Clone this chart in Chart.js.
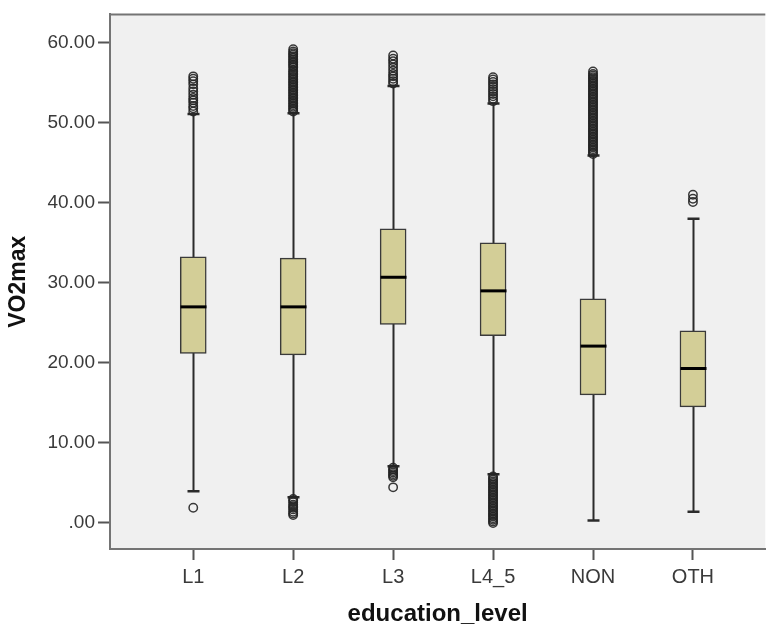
<!DOCTYPE html>
<html>
<head>
<meta charset="utf-8">
<script src="https://cdn.jsdelivr.net/npm/chart.js@4"></script>
<style>
  html, body { margin: 0; padding: 0; background: #ffffff; }
  #wrap { width: 771px; height: 629px; }
</style>
</head>
<body>
<div id="wrap"><canvas id="boxChart" width="771" height="629"></canvas></div>
<script>
// categories and box statistics
const categories = ["L1", "L2", "L3", "L4_5", "NON", "OTH"];
const q1 = [21.2, 21.0, 24.8, 23.4, 16.0, 14.5];
const median = [27.0, 27.0, 30.7, 29.0, 22.1, 19.3];
const q3 = [33.25, 33.1, 36.75, 35.0, 28.0, 24.0];
const whiskerLow = [3.95, 3.2, 7.1, 6.1, 0.3, 1.4];
const whiskerHigh = [51.1, 51.2, 54.6, 52.4, 45.9, 38.0];

// outliers per category
const outliersL1 = [1.9, 51.4, 51.8, 52.1, 52.5, 52.8, 53.1, 53.5, 53.9, 54.3, 54.8, 55.2, 55.5, 55.8];
const outliersL2 = [1.0, 1.2, 1.4, 1.7, 1.9, 2.1, 2.3, 2.6, 2.8, 3.0,
  51.4, 51.6, 51.8, 52.0, 52.2, 52.4, 52.6, 52.8, 53.0, 53.2, 53.4, 53.6, 53.8, 54.0,
  54.2, 54.4, 54.6, 54.8, 55.0, 55.2, 55.4, 55.6, 55.8, 56.0, 56.2, 56.4, 56.6, 56.9,
  57.1, 57.3, 57.5, 57.7, 57.9, 58.1, 58.3, 58.5, 58.7, 58.9, 59.2];
const outliersL3 = [4.45, 5.7, 5.9, 6.1, 6.3, 6.5, 6.7, 6.9,
  54.9, 55.2, 55.5, 55.8, 56.1, 56.5, 56.9, 57.3, 57.7, 58.0, 58.4];
const outliersL4_5 = [0.0, 0.2, 0.4, 0.6, 0.8, 1.0, 1.2, 1.4, 1.6, 1.8, 2.0, 2.2, 2.4, 2.6,
  2.8, 3.0, 3.2, 3.4, 3.6, 3.8, 4.0, 4.2, 4.4, 4.6, 4.8, 5.0, 5.2, 5.4, 5.6, 5.8,
  52.7, 53.0, 53.3, 53.6, 53.9, 54.2, 54.5, 54.8, 55.1, 55.4, 55.7];
const outliersNON = [46.1, 46.3, 46.5, 46.7, 46.9, 47.1, 47.3, 47.5, 47.7, 47.9, 48.1, 48.3,
  48.5, 48.7, 48.9, 49.1, 49.3, 49.5, 49.7, 49.9, 50.1, 50.3, 50.5, 50.7, 50.9, 51.1,
  51.3, 51.5, 51.7, 51.9, 52.1, 52.3, 52.5, 52.7, 52.9, 53.1, 53.3, 53.5, 53.7, 53.9,
  54.1, 54.3, 54.5, 54.7, 54.9, 55.1, 55.3, 55.5, 55.7, 55.9, 56.1, 56.4];
const outliersOTH = [40.1, 40.5, 41.0];

const yTicks = [0, 10, 20, 30, 40, 50, 60];

const allOutliers = [outliersL1, outliersL2, outliersL3, outliersL4_5, outliersNON, outliersOTH];
const outlierPoints = [];
allOutliers.forEach((list, i) => {
  list.forEach((v) => outlierPoints.push({ x: i + 1, y: v }));
});

const boxData = categories.map((c, i) => ({ x: i + 1, y: [q1[i], q3[i]] }));

const fontFamily = "'Liberation Sans', Arial, sans-serif";

// background, whiskers, medians and the top frame line
const boxPlotParts = {
  id: "boxPlotParts",
  beforeDraw(chart) {
    const { ctx, chartArea } = chart;
    ctx.save();
    ctx.fillStyle = "#f0f0f0";
    ctx.fillRect(chartArea.left, chartArea.top, chartArea.right - chartArea.left, chartArea.bottom - chartArea.top);
    ctx.restore();
  },
  beforeDatasetsDraw(chart) {
    const { ctx, scales } = chart;
    const xs = scales.x, ys = scales.y;
    ctx.save();
    ctx.strokeStyle = "#2b2b2b";
    categories.forEach((c, i) => {
      const x = Math.round(xs.getPixelForValue(i + 1)) + 0.5;
      const yLow = ys.getPixelForValue(whiskerLow[i]);
      const yHigh = ys.getPixelForValue(whiskerHigh[i]);
      ctx.lineWidth = 2;
      ctx.beginPath();
      ctx.moveTo(x, yLow);
      ctx.lineTo(x, yHigh);
      ctx.stroke();
      ctx.lineWidth = 2.5;
      ctx.beginPath();
      ctx.moveTo(x - 6, yLow);
      ctx.lineTo(x + 6, yLow);
      ctx.moveTo(x - 6, yHigh);
      ctx.lineTo(x + 6, yHigh);
      ctx.stroke();
    });
    ctx.restore();
  },
  afterDatasetsDraw(chart) {
    const { ctx, scales, chartArea } = chart;
    const xs = scales.x, ys = scales.y;
    ctx.save();
    ctx.strokeStyle = "#000000";
    ctx.lineWidth = 3;
    categories.forEach((c, i) => {
      const x = Math.round(xs.getPixelForValue(i + 1)) + 0.5;
      const y = ys.getPixelForValue(median[i]);
      ctx.beginPath();
      ctx.moveTo(x - 13, y);
      ctx.lineTo(x + 13, y);
      ctx.stroke();
    });
    ctx.strokeStyle = "#747474";
    ctx.lineWidth = 2;
    ctx.beginPath();
    ctx.moveTo(chartArea.left, chartArea.top);
    ctx.lineTo(chartArea.right, chartArea.top);
    ctx.stroke();
    ctx.restore();
  }
};

const ctx = document.getElementById("boxChart").getContext("2d");
new Chart(ctx, {
  type: "bar",
  data: {
    datasets: [
      {
        type: "scatter",
        label: "Outliers",
        data: outlierPoints,
        pointStyle: "circle",
        pointRadius: 4.2,
        borderWidth: 1.5,
        borderColor: "rgba(35,35,35,0.9)",
        backgroundColor: "rgba(0,0,0,0)",
        order: 0
      },
      {
        type: "bar",
        label: "Box",
        data: boxData,
        backgroundColor: "#d3ce97",
        borderColor: "#3a3a3a",
        borderWidth: 1.5,
        borderSkipped: false,
        barThickness: 26,
        order: 1
      }
    ]
  },
  options: {
    responsive: false,
    animation: false,
    layout: { padding: { top: 8, left: 0, right: 0, bottom: 0 } },
    plugins: {
      legend: { display: false },
      tooltip: { enabled: false }
    },
    scales: {
      x: {
        type: "linear",
        offset: false,
        min: 0.167,
        max: 6.724,
        afterBuildTicks: (scale) => {
          scale.ticks = categories.map((c, i) => ({ value: i + 1 }));
        },
        afterFit: (scale) => { scale.height = 80; },
        ticks: {
          callback: (value) => categories[value - 1],
          color: "#3a3a3a",
          padding: 5,
          maxRotation: 0,
          font: { family: fontFamily, size: 20 }
        },
        grid: {
          offset: false,
          drawOnChartArea: false,
          drawTicks: true,
          tickLength: 11,
          tickWidth: 2,
          tickColor: "#555555"
        },
        border: { color: "#747474", width: 2 },
        title: {
          display: true,
          text: "education_level",
          color: "#111111",
          padding: { top: 0, bottom: 0 },
          font: { family: fontFamily, size: 24, weight: "bold" }
        }
      },
      y: {
        type: "linear",
        min: -3.25,
        max: 63.54,
        afterBuildTicks: (scale) => {
          scale.ticks = yTicks.map((v) => ({ value: v }));
        },
        afterFit: (scale) => { scale.width = 110; },
        ticks: {
          callback: (value) => (value === 0 ? ".00" : value.toFixed(2)),
          color: "#3a3a3a",
          padding: 3,
          font: { family: fontFamily, size: 19 }
        },
        grid: {
          drawOnChartArea: false,
          drawTicks: true,
          tickLength: 12,
          tickWidth: 2,
          tickColor: "#555555"
        },
        border: { color: "#747474", width: 2 },
        title: {
          display: true,
          text: "VO2max",
          color: "#111111",
          padding: { top: 5, bottom: 0 },
          font: { family: fontFamily, size: 23, weight: "bold" }
        }
      }
    }
  },
  plugins: [boxPlotParts]
});
</script>
</body>
</html>
